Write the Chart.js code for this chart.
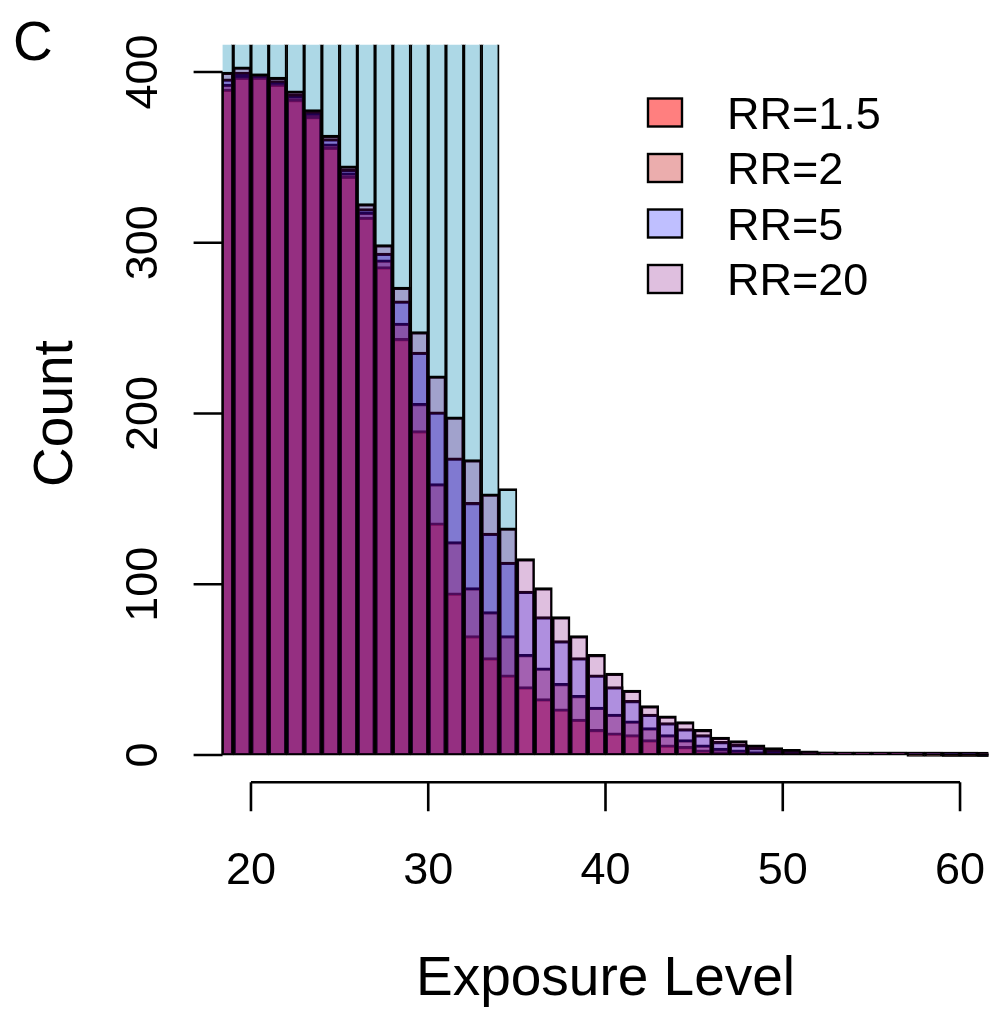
<!DOCTYPE html>
<html>
<head>
<meta charset="utf-8">
<script src="https://cdn.jsdelivr.net/npm/chart.js@4.4.1/dist/chart.umd.min.js"></script>
<style>
html, body { margin: 0; padding: 0; background: #fff; }
#wrap { width: 993px; height: 1011px; }
</style>
</head>
<body>
<div id="wrap"><canvas id="hist" width="993" height="1011"></canvas></div>
<script>
// left edge of each 1-unit exposure bin
var bin_start = [18, 19, 20, 21, 22, 23, 24, 25, 26, 27, 28, 29, 30, 31, 32, 33, 34, 35, 36, 37, 38, 39,
                 40, 41, 42, 43, 44, 45, 46, 47, 48, 49, 50, 51, 52, 53, 54, 55, 56, 57, 58, 59, 60, 61];

// reference population (bins 18..34), tall bars run past the top of the plot
var base_count = [520, 540, 550, 560, 560, 555, 550, 540, 530, 520, 505, 490, 475, 460, 445, 430, 156];

var rr15_count = [390, 397, 397, 393, 384, 374, 356, 339, 315, 286, 244, 190, 136, 95, 70, 57, 47, 40, 33, 27, 21, 15,
                  13, 12, 9, 6, 5, 3, 2, 1.5, 1, 0.7, 0.5, 0.4, 0.3, 0.2, 0.1, 0.1, 0.1, 0, 0, 0, 0, 0];
var rr2_count  = [393, 398, 398, 394, 386, 376, 358, 341, 318, 290, 253, 206, 159, 125, 98, 84, 70, 59, 51, 42, 35, 28,
                  24, 20, 16, 12, 9, 6, 4, 3, 2, 1.5, 1, 0.8, 0.6, 0.4, 0.3, 0.2, 0.1, 0.1, 0.1, 0, 0, 0];
var rr5_count  = [396, 400, 399, 395, 387, 377, 361, 343, 320, 294, 266, 236, 201, 174, 148, 130, 113, 96, 81, 67, 57, 47,
                  40, 32, 24, 19, 15.5, 12, 8, 6.3, 4.5, 3.2, 2.4, 1.8, 1.3, 1, 0.7, 0.5, 0.4, 0.3, 0.2, 0.1, 0.1, 0];
var rr20_count = [400, 403, 399, 397, 389, 378, 363, 345, 323, 299, 274, 248, 222, 198, 173, 153, 133, 115, 98, 81, 70, 59,
                  48, 38, 29, 23, 19.5, 15, 10.5, 8.4, 6, 4.3, 3.3, 2.5, 1.8, 1.4, 1, 0.8, 0.6, 0.4, 0.3, 0.2, 0.1, 0.1];

var series_names = ["RR=1.5", "RR=2", "RR=5", "RR=20"];
var x_ticks = [20, 30, 40, 50, 60];
var y_ticks = [0, 100, 200, 300, 400];

var fills = ["rgba(255,0,0,0.5)", "rgba(204,51,51,0.4)", "rgba(0,0,255,0.25)", "rgba(128,0,128,0.25)"];
var FONT = '"Liberation Sans", Arial, Helvetica, sans-serif';

function toPoints(vals) {
    return vals.map(function(v, i) { return { x: bin_start[i] + 0.5, y: v }; });
}

function histSet(label, vals, color, order) {
    return {
        label: label,
        data: toPoints(vals),
        backgroundColor: color,
        borderColor: "#000",
        borderWidth: { top: 2.6, left: 1.9, right: 1.9, bottom: 1.6 },
        borderSkipped: false,
        minBarLength: 2.8,
        grouped: false,
        barPercentage: 1,
        categoryPercentage: 1,
        clip: 0,
        order: order,
    };
}

// R style axes, titles and legend
var rAxes = {
    id: "rAxes",
    afterDraw: function(chart) {
        var ctx = chart.ctx;
        var xs = chart.scales.x, ys = chart.scales.y, area = chart.chartArea;
        ctx.save();
        ctx.strokeStyle = "#000";
        ctx.fillStyle = "#000";
        ctx.lineWidth = 2.6;

        // y axis
        ctx.beginPath();
        ctx.moveTo(area.left, ys.getPixelForValue(y_ticks[0]));
        ctx.lineTo(area.left, ys.getPixelForValue(y_ticks[y_ticks.length - 1]));
        y_ticks.forEach(function(v) {
            var py = ys.getPixelForValue(v);
            ctx.moveTo(area.left, py);
            ctx.lineTo(area.left - 29, py);
        });
        ctx.stroke();

        // x axis
        ctx.beginPath();
        ctx.moveTo(xs.getPixelForValue(x_ticks[0]), area.bottom);
        ctx.lineTo(xs.getPixelForValue(x_ticks[x_ticks.length - 1]), area.bottom);
        x_ticks.forEach(function(v) {
            var px = xs.getPixelForValue(v);
            ctx.moveTo(px, area.bottom);
            ctx.lineTo(px, area.bottom + 29);
        });
        ctx.stroke();

        ctx.font = "45px " + FONT;
        ctx.textAlign = "center";
        ctx.textBaseline = "alphabetic";
        x_ticks.forEach(function(v) {
            ctx.fillText(String(v), xs.getPixelForValue(v), 884);
        });
        y_ticks.forEach(function(v) {
            ctx.save();
            ctx.translate(157, ys.getPixelForValue(v));
            ctx.rotate(-Math.PI / 2);
            ctx.fillText(String(v), 0, 0);
            ctx.restore();
        });

        // titles
        ctx.font = "55px " + FONT;
        ctx.fillText("Exposure Level", (area.left + area.right) / 2, 995);
        ctx.save();
        ctx.translate(72, (area.top + area.bottom) / 2);
        ctx.rotate(-Math.PI / 2);
        ctx.fillText("Count", 0, 0);
        ctx.restore();
        ctx.textAlign = "left";
        ctx.fillText("C", 13, 60);

        // legend
        ctx.font = "45px " + FONT;
        ctx.lineWidth = 2.4;
        series_names.forEach(function(name, i) {
            var cy = 112.5 + i * 55.5;
            ctx.fillStyle = "#fff";
            ctx.fillRect(648, cy - 14, 34, 28);
            ctx.fillStyle = fills[i];
            ctx.fillRect(648, cy - 14, 34, 28);
            ctx.strokeRect(648, cy - 14, 34, 28);
            ctx.fillStyle = "#000";
            ctx.fillText(name, 727, cy + 16);
        });
        ctx.restore();
    }
};

new Chart(document.getElementById("hist"), {
    type: "bar",
    data: {
        datasets: [
            histSet("base", base_count, "#ADD8E6", 5),
            histSet(series_names[0], rr15_count, fills[0], 4),
            histSet(series_names[1], rr2_count, fills[1], 3),
            histSet(series_names[2], rr5_count, fills[2], 2),
            histSet(series_names[3], rr20_count, fills[3], 1),
        ],
    },
    options: {
        responsive: false,
        animation: false,
        devicePixelRatio: 1,
        events: [],
        layout: {
            padding: { left: 222.6, right: 4.6, top: 44.7, bottom: 228.7 },
        },
        plugins: {
            legend: { display: false },
            tooltip: { enabled: false },
        },
        scales: {
            x: {
                type: "linear",
                display: false,
                offset: false,
                min: 18.4,
                max: 61.6,
                ticks: { stepSize: 10 },
            },
            y: {
                type: "linear",
                display: false,
                min: -16,
                max: 416,
            },
        },
    },
    plugins: [rAxes],
});
</script>
</body>
</html>
